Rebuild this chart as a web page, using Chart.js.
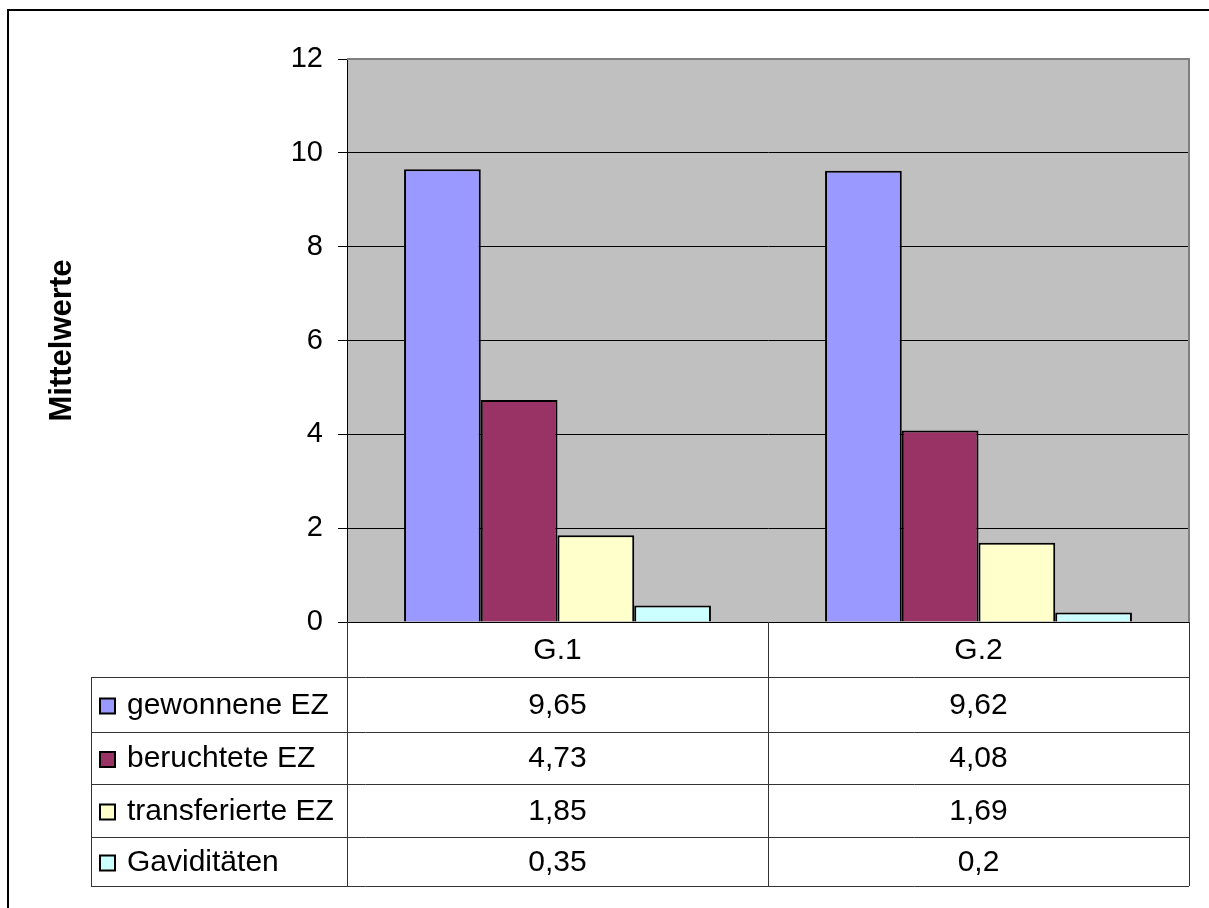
<!DOCTYPE html>
<html lang="de">
<head>
<meta charset="utf-8">
<title>Mittelwerte</title>
<script src="https://cdn.jsdelivr.net/npm/chart.js@4"></script>
<style>
  html, body { margin: 0; padding: 0; background: #fff; overflow: hidden; }
  canvas { display: block; }
</style>
</head>
<body>
<canvas id="chart" width="1209" height="908"></canvas>
<script>
// Gruppen und Mittelwerte
const categories = ['G.1', 'G.2'];
const seriesNames = ['gewonnene EZ', 'beruchtete EZ', 'transferierte EZ', 'Gaviditäten'];
const gewonneneEZ = [9.65, 9.62];
const beruchteteEZ = [4.73, 4.08];
const transferierteEZ = [1.85, 1.69];
const gaviditaeten = [0.35, 0.2];
const seriesColors = ['#9999FF', '#993366', '#FFFFCC', '#CCFFFF'];
const yTicks = [0, 2, 4, 6, 8, 10, 12];

const FONT = '"Liberation Sans", Arial, sans-serif';
const TABLE_FONT_SIZE = 30;
const TICK_FONT_SIZE = 29;

// row edges of the data table below the plot
const tableRows = [622, 677, 732, 784, 837, 886];
const tableLeft = 91;

function fmt(v) {
    return String(v).replace('.', ',');
}

// grey plot background, grey top/right border and the outer frame
const plotBackground = {
    id: 'plotBackground',
    beforeDraw(chart) {
        const { ctx, chartArea: a } = chart;
        ctx.save();
        ctx.fillStyle = '#fff';
        ctx.fillRect(0, 0, chart.width, chart.height);
        ctx.strokeStyle = '#000';
        ctx.lineWidth = 2;
        ctx.strokeRect(8, 10, chart.width + 20, chart.height + 20);
        ctx.fillStyle = '#C0C0C0';
        ctx.fillRect(a.left, a.top, a.right - a.left, a.bottom - a.top);
        ctx.restore();
    },
    afterDatasetsDraw(chart) {
        const { ctx, chartArea: a } = chart;
        ctx.save();
        ctx.strokeStyle = '#808080';
        ctx.lineWidth = 2;
        ctx.beginPath();
        ctx.moveTo(a.left, a.top);
        ctx.lineTo(a.right, a.top);
        ctx.lineTo(a.right, a.bottom);
        ctx.stroke();
        ctx.restore();
    }
};

// data table with legend keys under the category axis
const dataTable = {
    id: 'dataTable',
    afterDraw(chart) {
        const { ctx, chartArea: a } = chart;
        const x = chart.scales.x;
        const centers = categories.map((c, i) => x.getPixelForValue(i));
        const bounds = [a.left];
        for (let i = 1; i < centers.length; i++) bounds.push((centers[i - 1] + centers[i]) / 2);
        bounds.push(a.right);
        const top = tableRows[0];
        const bottom = tableRows[tableRows.length - 1];

        ctx.save();
        ctx.strokeStyle = '#333';
        ctx.lineWidth = 1;
        ctx.beginPath();
        // vertical lines
        bounds.forEach(b => {
            const px = Math.round(b) + 0.5;
            ctx.moveTo(px, top);
            ctx.lineTo(px, bottom);
        });
        ctx.moveTo(tableLeft + 0.5, tableRows[1]);
        ctx.lineTo(tableLeft + 0.5, bottom);
        // horizontal lines
        for (let r = 1; r < tableRows.length; r++) {
            const py = tableRows[r] + 0.5;
            ctx.moveTo(tableLeft, py);
            ctx.lineTo(a.right, py);
        }
        ctx.stroke();

        ctx.fillStyle = '#000';
        ctx.font = TABLE_FONT_SIZE + 'px ' + FONT;
        ctx.textBaseline = 'middle';
        ctx.textAlign = 'center';
        categories.forEach((c, i) => {
            ctx.fillText(c, centers[i], (tableRows[0] + tableRows[1]) / 2 + 1);
        });

        chart.data.datasets.forEach((ds, d) => {
            const yMid = (tableRows[d + 1] + tableRows[d + 2]) / 2 + 1;
            // legend key
            ctx.fillStyle = ds.backgroundColor;
            ctx.fillRect(100, yMid - 7, 15, 15);
            ctx.strokeStyle = '#000';
            ctx.lineWidth = 2;
            ctx.strokeRect(100, yMid - 7, 15, 15);
            ctx.fillStyle = '#000';
            ctx.textAlign = 'left';
            ctx.fillText(ds.label, 127, yMid);
            ctx.textAlign = 'center';
            ds.data.forEach((v, i) => {
                ctx.fillText(fmt(v), centers[i], yMid);
            });
        });
        ctx.restore();
    }
};

const barStyle = { borderColor: '#000', borderWidth: 2 };

new Chart(document.getElementById('chart'), {
    type: 'bar',
    data: {
        labels: categories,
        datasets: [
            { label: seriesNames[0], data: gewonneneEZ, backgroundColor: seriesColors[0], ...barStyle },
            { label: seriesNames[1], data: beruchteteEZ, backgroundColor: seriesColors[1], ...barStyle },
            { label: seriesNames[2], data: transferierteEZ, backgroundColor: seriesColors[2], ...barStyle },
            { label: seriesNames[3], data: gaviditaeten, backgroundColor: seriesColors[3], ...barStyle }
        ]
    },
    options: {
        responsive: false,
        animation: false,
        categoryPercentage: 0.729,
        barPercentage: 1,
        layout: {
            padding: { left: 0, top: 59, right: 20, bottom: 908 - 622 }
        },
        plugins: {
            legend: { display: false },
            tooltip: { enabled: false }
        },
        scales: {
            x: {
                display: false
            },
            y: {
                min: yTicks[0],
                max: yTicks[yTicks.length - 1],
                afterBuildTicks(scale) {
                    scale.ticks = yTicks.map(v => ({ value: v }));
                },
                afterFit(scale) {
                    scale.width = 347;
                },
                border: { color: '#000', width: 1 },
                grid: {
                    color: ctx => (ctx.tick && ctx.tick.value === 12 ? '#808080' : '#000'),
                    tickColor: '#000',
                    tickLength: 9,
                    lineWidth: 1
                },
                ticks: {
                    color: '#000',
                    padding: 15,
                    font: { family: FONT, size: TICK_FONT_SIZE }
                },
                title: {
                    display: true,
                    text: 'Mittelwerte',
                    color: '#000',
                    font: { family: FONT, size: 31, weight: 'bold' },
                    padding: { top: 44, bottom: 0 }
                }
            }
        }
    },
    plugins: [plotBackground, dataTable]
});
</script>
</body>
</html>
